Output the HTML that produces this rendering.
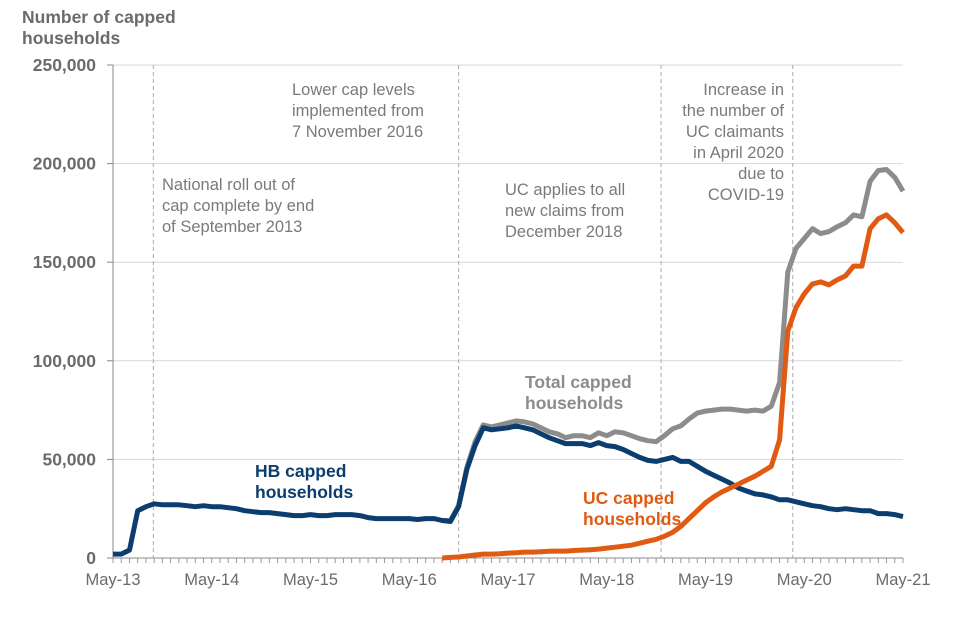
<!DOCTYPE html>
<html><head><meta charset="utf-8"><style>
body{margin:0;background:#fff;}
svg{display:block;font-family:"Liberation Sans",Arial,sans-serif;}
</style></head><body>
<svg id="chart" width="960" height="640">
<text x="22" y="23" font-size="17.5" font-weight="bold" fill="#6b6b6b"><tspan x="22">Number of capped</tspan><tspan x="22" dy="21">households</tspan></text>
<g id="grid"></g><g id="axes"></g><g id="events"></g><g id="series"></g>
<g font-size="16.5" fill="#7a7a7a">
<text><tspan x="162" y="190">National roll out of</tspan><tspan x="162" y="211">cap complete by end</tspan><tspan x="162" y="232">of September 2013</tspan></text>
<text><tspan x="292" y="95">Lower cap levels</tspan><tspan x="292" y="116">implemented from</tspan><tspan x="292" y="137">7 November 2016</tspan></text>
<text><tspan x="505" y="195">UC applies to all</tspan><tspan x="505" y="216">new claims from</tspan><tspan x="505" y="237">December 2018</tspan></text>
<text text-anchor="end"><tspan x="784" y="95">Increase in</tspan><tspan x="784" y="116">the number of</tspan><tspan x="784" y="137">UC claimants</tspan><tspan x="784" y="158">in April 2020</tspan><tspan x="784" y="179">due to</tspan><tspan x="784" y="200">COVID-19</tspan></text>
</g>
<g font-size="17.5" font-weight="bold">
<text fill="#8c8c8c"><tspan x="525" y="388">Total capped</tspan><tspan x="525" y="409">households</tspan></text>
<text fill="#0b3d6f"><tspan x="255" y="477">HB capped</tspan><tspan x="255" y="498">households</tspan></text>
<text fill="#e05a12"><tspan x="583" y="504">UC capped</tspan><tspan x="583" y="525">households</tspan></text>
</g>
</svg>
<script>
const yTicks=[0,50000,100000,150000,200000,250000];
const xTickLabels=["May-13","May-14","May-15","May-16","May-17","May-18","May-19","May-20","May-21"];
const eventMonths=[4.9,42,66.6,82.6];
const hbValues=[2,2,4,24,26,27.5,27,27,27,26.5,26,26.5,26,26,25.5,25,24,23.5,23,23,22.5,22,21.5,21.5,22,21.5,21.5,22,22,22,21.5,20.5,20,20,20,20,20,19.5,20,20,19,18.5,26,45,57,66,65,65.5,66,67,66,65,63,61,59.5,58,58,58,57,58.5,57,56.5,55,53,51,49.5,49,50,51,49,49,46.5,44,42,40,38,35.5,34,32.5,32,31,29.5,29.5,28.5,27.5,26.5,26,25,24.5,25,24.5,24,24,22.5,22.5,22,21];
const ucStart=40;
const ucValues=[0,0.3,0.5,1,1.5,2,2,2.2,2.5,2.7,3,3,3.2,3.4,3.5,3.5,3.8,4,4.2,4.5,5,5.5,6,6.5,7.5,8.5,9.5,11,13,16,20,24,28,31,33.5,35.5,37.5,39.5,41.5,44,46.5,60,115,127,134,139,140,138.5,141,143,148,148,167,172,174,170,165];
const totalStart=40;
const totalValues=[19,19,26.5,46,59,67.5,66.5,67.5,68.5,69.5,69,68,66,64,63,61,62,62,61,63.5,62,64,63.5,62,60.5,59.5,59,62,65.5,67,70.5,73.5,74.5,75,75.5,75.5,75,74.5,75,74.5,77,89,145,157,162,167,164.5,165.5,168,170,174,173,191,196.5,197,193,186];
const NS="http://www.w3.org/2000/svg";
const X0=113,X1=903,Y0=558,Y1=65;
const xs=m=>X0+m*(X1-X0)/96;
const ys=v=>Y0-v*(Y0-Y1)/250000;
function mk(t,a,p){const e=document.createElementNS(NS,t);for(const k in a)e.setAttribute(k,a[k]);p.appendChild(e);return e;}
const grid=document.getElementById('grid'),axes=document.getElementById('axes'),ev=document.getElementById('events'),ser=document.getElementById('series');
yTicks.forEach(v=>{
 if(v>0){const g=mk('line',{x1:X0,x2:X1,y1:ys(v),y2:ys(v),stroke:'#d9d9d9','stroke-width':1},grid);
 
 }
 const tk=mk('line',{x1:X0-6,x2:X0,y1:ys(v),y2:ys(v),stroke:'#888'},axes);
 
 
 const t=mk('text',{x:96,y:ys(v)+6,'text-anchor':'end','font-size':17.5,'font-weight':'bold',fill:'#6b6b6b'},axes);
 t.textContent=v.toLocaleString('en-US');
 
 
});
const ya=mk('line',{x1:X0,x2:X0,y1:Y1,y2:Y0,stroke:'#888'},axes);


const xa=mk('line',{x1:X0,x2:X1,y1:Y0,y2:Y0,stroke:'#888'},axes);


for(let m=0;m<=96;m++){const t=mk('line',{x1:xs(m),x2:xs(m),y1:Y0,y2:Y0+5,stroke:'#999'},axes);
 
 }
xTickLabels.forEach((l,i)=>{const t=mk('text',{x:xs(i*12),y:Y0+27,'text-anchor':'middle','font-size':16.5,fill:'#6b6b6b'},axes);
 t.textContent=l;
 
 });
eventMonths.forEach(m=>{const l=mk('line',{x1:xs(m),x2:xs(m),y1:Y1,y2:Y0,stroke:'#aaa','stroke-dasharray':'4,3'},ev);
 
 });
function line(vals,start,color,name){
 const d=vals.map((v,i)=>(i?'L':'M')+xs(start+i).toFixed(1)+','+ys(v*1000).toFixed(1)).join('');
 const p=mk('path',{d:d,fill:'none',stroke:color,'stroke-width':5,'stroke-linejoin':'round'},ser);
 
 
}
line(totalValues,totalStart,'#8c8c8c','total-line');
line(hbValues,0,'#0b3d6f','hb-line');
line(ucValues,ucStart,'#e05a12','uc-line');
</script>
</body></html>
